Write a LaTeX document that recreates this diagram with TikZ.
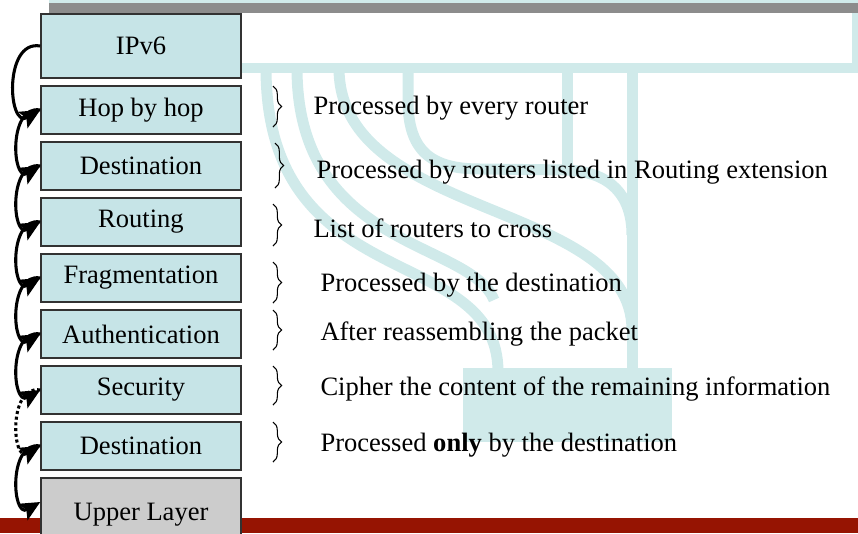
\documentclass[tikz,border=0pt]{standalone}
\usepackage{fontspec}
\setmainfont{Liberation Serif}
\usetikzlibrary{arrows.meta,decorations.pathreplacing}

\definecolor{wmteal}{RGB}{208,234,234}
\definecolor{boxblue}{RGB}{198,228,231}
\definecolor{boxgray}{RGB}{204,204,204}
\definecolor{bargray}{RGB}{140,140,140}
\definecolor{barred}{RGB}{150,20,2}
\definecolor{edge}{RGB}{50,50,50}

\tikzset{every picture/.style={line width=0.75pt}}
\tikzset{
  hdrbox/.style={draw=edge, line width=1.1pt, fill=boxblue, minimum width=150pt, minimum height=36pt, inner sep=0pt, font=\fontsize{19.9pt}{24pt}\selectfont},
  lastbox/.style={hdrbox, fill=boxgray, minimum height=55.5pt},
  note/.style={anchor=west, inner sep=0pt, font=\fontsize{19.9pt}{24pt}\selectfont},
  wmline/.style={draw=wmteal, line width=8.25pt},
  flow/.style={draw=black, line width=2.3pt, -{Stealth[length=15pt,width=14pt,inset=3pt]}},
  brc/.style={decorate, decoration={brace, amplitude=6.5pt}, line width=0.8pt}
}

\begin{document}
\begin{tikzpicture}[x=0.75pt,y=0.75pt,yscale=-1,xscale=1]
\clip (0,0) rectangle (858,533);

%Shape: watermark frame
\fill[wmteal] (49,0) rectangle (858,73);
\fill[white] (41,13) rectangle (852,63);
%Curve Lines: watermark strokes
\draw[wmline] (266,68) .. controls (266,300) and (498,240) .. (498,372) ;
\draw[wmline] (297,68) .. controls (297,250) and (470,240) .. (494,300) ;
\draw[wmline] (339,68) .. controls (339,220) and (632,200) .. (632,330) ;
\draw[wmline] (408,68) -- (408,100) .. controls (408,150) and (430,169) .. (480,169) -- (567,170) .. controls (610,172) and (632,195) .. (632,235) ;
\draw[wmline] (567,68) -- (567,172) ;
\draw[wmline] (632,68) -- (632,372) ;
%Shape: watermark base
\fill[wmteal] (463,368) rectangle (672,442);

%Shape: top and bottom bars
\fill[bargray] (49,3) rectangle (858,13);
\fill[barred] (0,518) rectangle (858,533);

%Headers
\node[hdrbox, minimum height=48pt] (ipv6) at (141,46) {IPv6};
\node[hdrbox] (hop) at (141,110) {Hop by hop};
\node[hdrbox] (dest) at (141,166) {Destination};
\node[hdrbox] (rout) at (141,222) {Routing};
\node[hdrbox] (frag) at (141,278) {Fragmentation};
\node[hdrbox] (auth) at (141,334) {Authentication};
\node[hdrbox] (sec) at (141,390) {Security};
\node[hdrbox] (destb) at (141,446) {Destination};
\node[lastbox] (upper) at (141,515) {Upper Layer};

%Chain arrows
\draw[flow] (ipv6.west) to[out=190,in=150,looseness=1.5] (hop.west);
\draw[flow] (hop.west) to[out=190,in=150,looseness=1.5] (dest.west);
\draw[flow] (dest.west) to[out=190,in=150,looseness=1.5] (rout.west);
\draw[flow] (rout.west) to[out=190,in=150,looseness=1.5] (frag.west);
\draw[flow] (frag.west) to[out=190,in=150,looseness=1.5] (auth.west);
\draw[flow] (auth.west) to[out=190,in=150,looseness=1.5] (sec.west);
\draw[flow, dotted] (sec.west) to[out=190,in=150,looseness=1.5] (destb.west);
\draw[flow] (destb.west) to[out=190,in=150,looseness=1.5] ([yshift=-9.75pt]upper.west);

%Braces
\draw[brc] (273,86) -- (273,127);
\draw[brc] (275,143) -- (275,188);
\draw[brc] (273,204) -- (273,246);
\draw[brc] (273,262) -- (273,303);
\draw[brc] (273,310) -- (273,350);
\draw[brc] (273,366) -- (273,405);
\draw[brc] (273,422) -- (273,462);

%Notes
\node[note] (n1) at (313,108) {Processed by every router};
\node[note] (n2) at (316,172) {Processed by routers listed in Routing extension};
\node[note] (n3) at (313,228) {List of routers to cross};
\node[note] (n4) at (320,285) {Processed by the destination};
\node[note] (n5) at (320,334) {After reassembling the packet};
\node[note] (n6) at (320,389) {Cipher the content of the remaining information};
\node[note] (n7) at (320,445) {Processed \textbf{only} by the destination};

\end{tikzpicture}
\end{document}
